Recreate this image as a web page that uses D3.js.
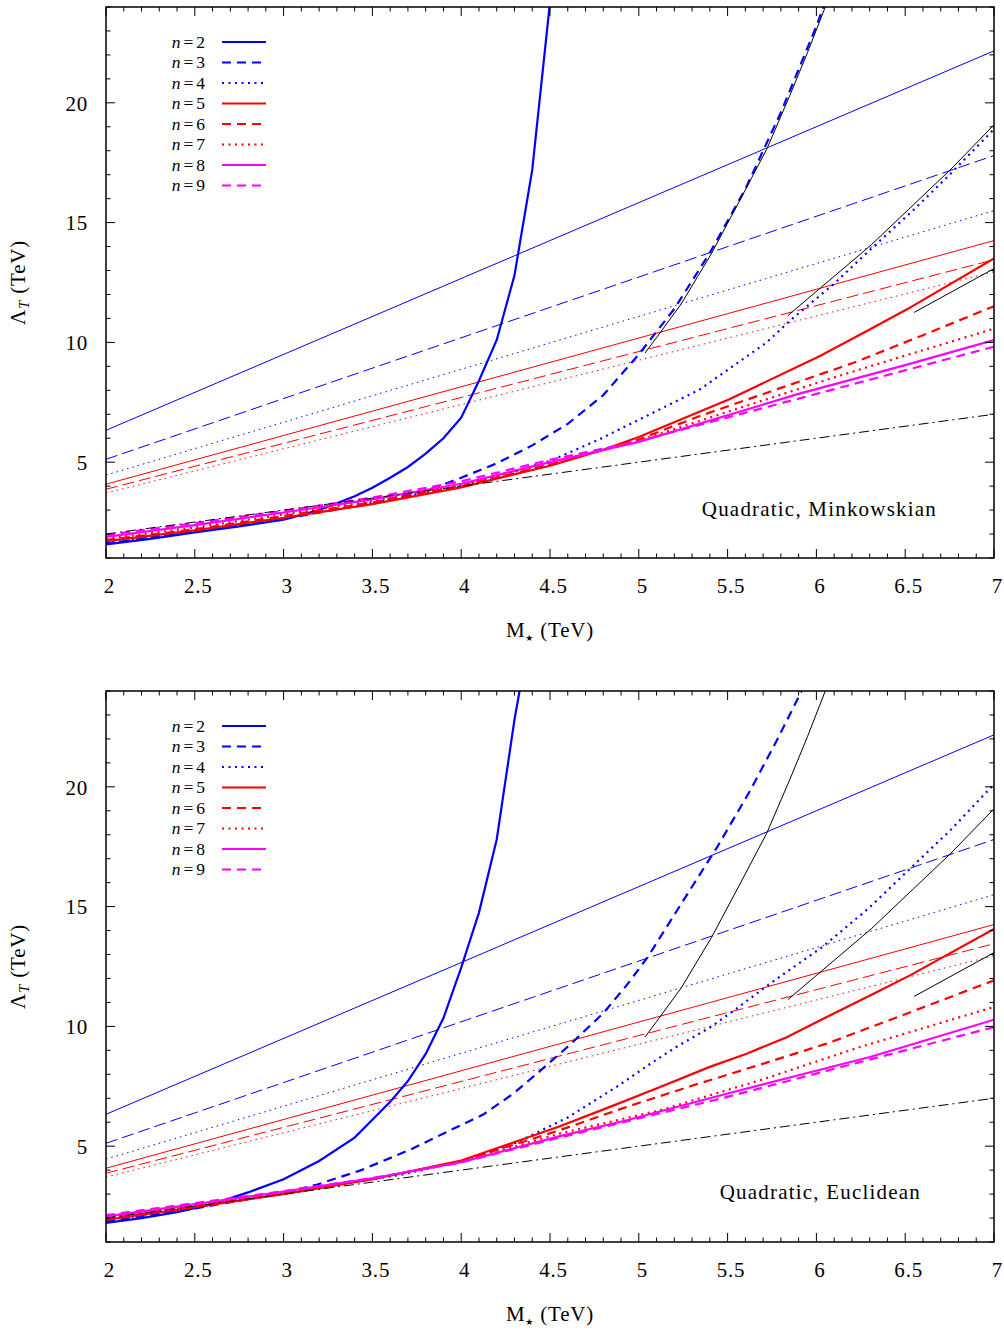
<!DOCTYPE html>
<html><head><meta charset="utf-8">
<script src="https://cdn.jsdelivr.net/npm/d3@7"></script>
<style>
body{margin:0;background:#fff}
text{font-family:"Liberation Serif","DejaVu Serif",serif;fill:#000}
</style>
</head><body>
<svg id="c" width="1004" height="1331"></svg>
<script>
// ---------- tick values ----------
const xTickValues = [2, 2.5, 3, 3.5, 4, 4.5, 5, 5.5, 6, 6.5, 7];
const yTickValues = [5, 10, 15, 20];
const legendLabels = ["2", "3", "4", "5", "6", "7", "8", "9"];
const panelTitles = ["Quadratic, Minkowskian", "Quadratic, Euclidean"];

// ---------- thin straight reference lines: [M, Lambda] end points ----------
const thinN2 = [[2, 6.33], [7, 22.17]];
const thinN3 = [[2, 5.12], [7, 17.8]];
const thinN4 = [[2, 4.46], [7, 15.5]];
const thinN5 = [[2, 4.08], [7, 14.25]];
const thinN6 = [[2, 3.87], [7, 13.45]];
const thinN7 = [[2, 3.71], [7, 12.95]];
const dashDotLine = [[2, 2.0], [7, 7.0]];

// ---------- thin black curves (same in both panels) ----------
const blackA = [[5.035, 9.56], [5.1, 10.2], [5.24, 11.62], [5.41, 13.72], [5.57, 15.95], [5.72, 18.06], [5.85, 20.3], [5.95, 22.1], [6.05, 24]];
const blackB = [[5.84, 11.12], [6.31, 14.08], [6.546, 15.74], [6.752, 17.19], [7, 19.08]];
const blackC = [[6.55, 11.25], [7, 13.08]];

// ---------- thick curves, top panel (Minkowskian) ----------
const topN2 = [[2, 1.57], [2.25, 1.8], [2.5, 2.07], [2.75, 2.32], [3, 2.6], [3.2, 3.0], [3.3, 3.28], [3.4, 3.58], [3.5, 3.93], [3.6, 4.35], [3.7, 4.8], [3.8, 5.36], [3.9, 6.0], [4.0, 6.86], [4.1, 8.4], [4.2, 10.1], [4.3, 12.8], [4.4, 17.2], [4.5, 24.2]];
const topN3 = [[2, 1.6], [2.5, 2.1], [3, 2.63], [3.5, 3.3], [3.8, 3.8], [4.0, 4.35], [4.2, 4.95], [4.4, 5.7], [4.6, 6.6], [4.8, 7.8], [5.0, 9.5], [5.2, 11.4], [5.4, 13.74], [5.6, 16.4], [5.8, 19.6], [6.0, 23.2], [6.1, 25.2]];
const topN4 = [[2, 1.62], [2.5, 2.12], [3, 2.65], [3.5, 3.3], [4, 4.0], [4.5, 5.05], [4.78, 5.96], [5.0, 6.77], [5.345, 8.04], [5.72, 10.0], [5.85, 10.9], [6.1, 12.45], [6.3, 13.85], [6.55, 15.55], [6.75, 17.0], [7, 18.9]];
const topN5 = [[2, 1.7], [2.5, 2.15], [3, 2.68], [3.5, 3.25], [4, 3.95], [4.5, 4.85], [4.78, 5.47], [5.0, 6.05], [5.51, 7.63], [6.02, 9.43], [6.3, 10.54], [6.51, 11.38], [7, 13.5]];
const topN6 = [[2, 1.75], [2.5, 2.2], [3, 2.75], [3.5, 3.32], [4, 4.0], [4.5, 4.9], [5.0, 5.95], [5.345, 6.93], [5.8, 8.1], [6.21, 9.15], [6.6, 10.3], [7, 11.51]];
const topN7 = [[2, 1.8], [2.5, 2.27], [3, 2.82], [3.5, 3.38], [4, 4.05], [4.5, 4.95], [5.0, 5.9], [5.5, 7.1], [6.1, 8.54], [6.5, 9.45], [7, 10.57]];
const topN8 = [[2, 1.88], [2.5, 2.37], [3, 2.9], [3.5, 3.45], [4, 4.1], [4.5, 5.0], [5.0, 5.85], [5.9, 7.85], [6.5, 9.05], [7, 10.1]];
const topN9 = [[2, 1.96], [2.5, 2.45], [3, 2.97], [3.5, 3.52], [4, 4.2], [4.5, 5.1], [5.0, 5.88], [6.0, 7.85], [7, 9.82]];

// ---------- thick curves, bottom panel (Euclidean) ----------
const botN2 = [[2, 1.8], [2.2, 2.0], [2.4, 2.25], [2.6, 2.58], [2.8, 3.07], [3.0, 3.62], [3.2, 4.38], [3.4, 5.36], [3.5, 6.1], [3.6, 6.85], [3.7, 7.72], [3.8, 8.85], [3.9, 10.35], [4.0, 12.45], [4.1, 14.75], [4.2, 17.8], [4.3, 22.8], [4.35, 24.9]];
const botN3 = [[2, 1.85], [2.5, 2.4], [3, 3.05], [3.186, 3.39], [3.43, 3.98], [3.712, 4.85], [3.937, 5.66], [4.124, 6.32], [4.293, 7.19], [4.444, 8.14], [4.613, 9.24], [4.8, 10.55], [4.932, 11.72], [5.05, 12.89], [5.25, 15.25], [5.44, 17.47], [5.626, 19.83], [5.776, 21.92], [5.917, 24], [5.95, 24.5]];
const botN4 = [[2, 1.9], [2.5, 2.45], [3, 3.02], [3.5, 3.62], [3.655, 3.8], [4.03, 4.42], [4.312, 5.15], [4.6, 6.2], [4.876, 7.48], [5.063, 8.43], [5.213, 9.15], [5.4, 9.95], [5.55, 10.74], [5.74, 11.79], [6.04, 13.35], [6.3, 14.97], [6.565, 16.85], [6.752, 18.17], [7, 20.11]];
const botN5 = [[2, 1.92], [2.5, 2.45], [3, 3.0], [3.5, 3.62], [4, 4.4], [4.556, 5.83], [4.838, 6.64], [5.12, 7.47], [5.4, 8.31], [5.607, 8.86], [5.833, 9.55], [6.058, 10.39], [6.302, 11.29], [6.527, 12.13], [7, 14.07]];
const botN6 = [[2, 1.97], [2.5, 2.5], [3, 3.04], [3.5, 3.63], [4, 4.37], [4.556, 5.67], [4.932, 6.64], [5.307, 7.54], [5.682, 8.4], [6.058, 9.28], [6.433, 10.32], [7, 11.92]];
const botN7 = [[2, 2.0], [2.5, 2.53], [3, 3.06], [3.5, 3.64], [4, 4.35], [4.556, 5.53], [5.12, 6.5], [5.682, 7.75], [6.246, 9.14], [7, 10.81]];
const botN8 = [[2, 2.07], [2.5, 2.58], [3, 3.1], [3.5, 3.66], [4, 4.33], [4.556, 5.42], [4.932, 6.08], [5.495, 7.19], [6.302, 8.72], [7, 10.28]];
const botN9 = [[2, 2.12], [2.5, 2.62], [3, 3.12], [3.5, 3.67], [4, 4.32], [4.556, 5.36], [5.495, 7.05], [6.246, 8.51], [7, 9.97]];

// ---------- styles (kept apart from data) ----------
const BLUE = "#0000ff", RED = "#ff0000", MAG = "#ff00ff";
const thickStyles = [
  {c: BLUE, d: null}, {c: BLUE, d: "9,6"}, {c: BLUE, d: "2,4.5"},
  {c: RED, d: null}, {c: RED, d: "9,6"}, {c: RED, d: "2,4.5"},
  {c: MAG, d: null}, {c: MAG, d: "9,6"}
];
const thinStyles = [
  {c: BLUE, d: null}, {c: BLUE, d: "12,5"}, {c: BLUE, d: "1.5,4"},
  {c: RED, d: null}, {c: RED, d: "12,5"}, {c: RED, d: "1.5,4"}
];

const thinSet = [thinN2, thinN3, thinN4, thinN5, thinN6, thinN7];
const panels = [
  {top: 7, bottom: 558, curves: [topN2, topN3, topN4, topN5, topN6, topN7, topN8, topN9], title: panelTitles[0], titleX: 937, titleY: 516},
  {top: 691, bottom: 1242, curves: [botN2, botN3, botN4, botN5, botN6, botN7, botN8, botN9], title: panelTitles[1], titleX: 921, titleY: 1199}
];

const svg = d3.select("#c");
const left = 106, right = 994;

panels.forEach((p, pi) => {
  const x = d3.scaleLinear().domain([2, 7]).range([left, right]);
  const y = d3.scaleLinear().domain([1, 24]).range([p.bottom, p.top]);
  const g = svg.append("g");
  const clipId = "clip" + pi;
  g.append("clipPath").attr("id", clipId).append("rect")
    .attr("x", left).attr("y", p.top).attr("width", right - left).attr("height", p.bottom - p.top);

  const line = d3.line().x(d => x(d[0])).y(d => y(d[1]));
  const plot = g.append("g").attr("clip-path", `url(#${clipId})`);

  thinSet.forEach((data, i) => {
    plot.append("path").attr("d", line(data)).attr("fill", "none")
      .attr("stroke", thinStyles[i].c).attr("stroke-width", 1)
      .attr("stroke-dasharray", thinStyles[i].d);
  });
  p.curves.forEach((data, i) => {
    plot.append("path").attr("d", line(data)).attr("fill", "none")
      .attr("stroke", thickStyles[i].c).attr("stroke-width", 2.2)
      .attr("stroke-dasharray", thickStyles[i].d);
  });
  plot.append("path").attr("d", line(dashDotLine)).attr("fill", "none")
    .attr("stroke", "#000").attr("stroke-width", 1).attr("stroke-dasharray", "10,4,2,4");
  [blackA, blackB, blackC].forEach(data => {
    plot.append("path").attr("d", line(data)).attr("fill", "none")
      .attr("stroke", "#000").attr("stroke-width", 1);
  });

  // mirrored inward ticks
  const minorX = d3.range(20, 71).map(v => v / 10);
  const minorY = d3.range(1, 25);
  const ax = g.append("g");
  minorX.forEach(v => {
    const major = Math.abs(v * 2 - Math.round(v * 2)) < 1e-6;
    const len = major ? 9 : 4.5;
    ax.append("line").attr("x1", x(v)).attr("x2", x(v)).attr("y1", p.bottom).attr("y2", p.bottom - len).attr("stroke", "#000").attr("stroke-width", 1);
    ax.append("line").attr("x1", x(v)).attr("x2", x(v)).attr("y1", p.top).attr("y2", p.top + len).attr("stroke", "#000").attr("stroke-width", 1);
  });
  minorY.forEach(v => {
    const major = v % 5 === 0;
    const len = major ? 9 : 4.5;
    ax.append("line").attr("y1", y(v)).attr("y2", y(v)).attr("x1", left).attr("x2", left + len).attr("stroke", "#000").attr("stroke-width", 1);
    ax.append("line").attr("y1", y(v)).attr("y2", y(v)).attr("x1", right).attr("x2", right - len).attr("stroke", "#000").attr("stroke-width", 1);
  });
  const xa = g.append("g").attr("transform", `translate(0,${p.bottom})`)
    .call(d3.axisBottom(x).tickValues(xTickValues).tickSize(0).tickPadding(0).tickFormat(d => String(d)));
  xa.select(".domain").remove();
  xa.selectAll("text").attr("dy", null).attr("y", 35).attr("x", 3).attr("font-size", 21)
    .attr("letter-spacing", 0.8)
    .attr("font-family", "Liberation Serif, serif").attr("fill", "#000");
  const ya = g.append("g").attr("transform", `translate(${left},0)`)
    .call(d3.axisLeft(y).tickValues(yTickValues).tickSize(0).tickPadding(0).tickFormat(d => String(d)));
  ya.select(".domain").remove();
  ya.selectAll("text").attr("x", -18).attr("dy", "0.35em").attr("font-size", 21)
    .attr("letter-spacing", 0.8)
    .attr("font-family", "Liberation Serif, serif").attr("fill", "#000");

  g.append("rect").attr("x", left).attr("y", p.top).attr("width", right - left).attr("height", p.bottom - p.top)
    .attr("fill", "none").attr("stroke", "#000").attr("stroke-width", 1.5);

  // axis titles
  const xt = g.append("text").attr("x", 550).attr("y", p.bottom + 79).attr("text-anchor", "middle")
    .attr("font-size", 21).attr("letter-spacing", 0.8);
  xt.append("tspan").text("M");
  xt.append("tspan").attr("font-size", 9).attr("font-family", "DejaVu Sans, sans-serif").attr("dy", 4).text("\u2605");
  xt.append("tspan").attr("dy", -4).text(" (TeV)");
  const cy = (p.top + p.bottom) / 2;
  const yt = g.append("g").attr("transform", `translate(25,${cy}) rotate(-90)`)
    .append("text").attr("text-anchor", "middle").attr("font-size", 21).attr("letter-spacing", 0.8);
  yt.append("tspan").text("\u039B");
  yt.append("tspan").attr("font-size", 15).attr("font-style", "italic").attr("dy", 4).text("T");
  yt.append("tspan").attr("dy", -4).text(" (TeV)");

  g.append("text").attr("x", p.titleX).attr("y", p.titleY).attr("text-anchor", "end")
    .attr("font-size", 21).attr("letter-spacing", 1.2).text(p.title);

  // legend
  const lg = g.append("g");
  legendLabels.forEach((lab, i) => {
    const ly = p.top + 35 + i * 20.5;
    const t = lg.append("text").attr("x", 205).attr("y", ly + 5.5).attr("text-anchor", "end").attr("font-size", 17.5);
    t.append("tspan").attr("font-style", "italic").text("n");
    t.append("tspan").attr("dx", 3).text("=");
    t.append("tspan").attr("dx", 3).text(lab);
    lg.append("line").attr("x1", 222).attr("x2", 266).attr("y1", ly).attr("y2", ly)
      .attr("stroke", thickStyles[i].c).attr("stroke-width", 2.2)
      .attr("stroke-dasharray", thickStyles[i].d);
  });
});
</script>
</body></html>
